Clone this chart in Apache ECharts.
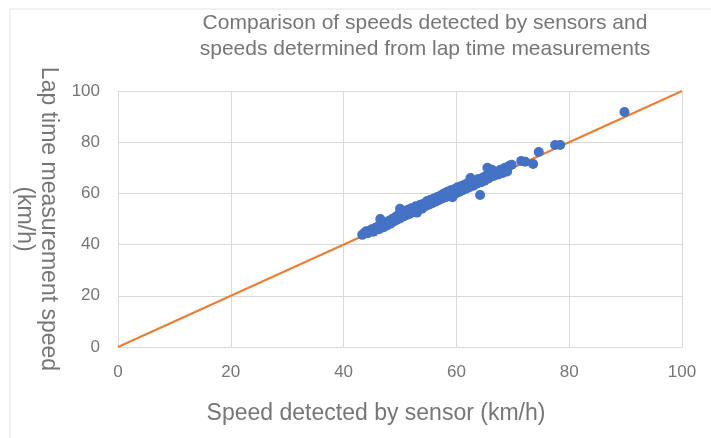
<!DOCTYPE html>
<html>
<head>
<meta charset="utf-8">
<script src="https://cdn.jsdelivr.net/npm/echarts@6/dist/echarts.min.js"></script>
<style>html,body{margin:0;padding:0;background:#fff}#c{width:711px;height:438px}</style>
</head>
<body>
<div id="c"></div>
<script>
const titleText = "Comparison of speeds detected by sensors and\nspeeds determined from lap time measurements";
const xName = "Speed detected by sensor (km/h)";
const yName = "Lap time measurement speed\n(km/h)";
const xTicks = [0, 20, 40, 60, 80, 100];
const yTicks = [0, 20, 40, 60, 80, 100];
const sensorSpeed = [43.3,43.7,44.0,44.3,44.7,45.0,45.3,45.6,46.0,46.3,46.5,46.8,47.1,47.4,47.7,
  48.0,48.3,48.6,48.9,49.2,49.4,49.7,50.0,50.0,50.3,50.6,50.9,51.1,51.4,51.7,52.0,52.2,52.5,
  52.8,53.0,53.3,53.6,53.9,54.2,54.5,54.8,55.1,55.4,55.7,56.0,56.3,56.6,56.9,
  57.2,57.5,57.8,58.1,58.4,58.7,59.0,59.3,59.6,59.9,60.2,60.5,60.8,61.1,61.4,61.7,62.0,62.3,62.5,62.7,
  63.0,63.3,63.6,63.9,64.2,64.4,64.7,65.0,65.3,65.5,65.7,66.0,66.3,66.6,67.0,67.4,67.8,68.2,68.6,69.0,69.4,69.8,
  71.5,72.2,73.6,74.6,77.5,78.4,89.8];
const lapSpeed = [43.8,44.6,45.2,44.4,45.5,46.0,45.0,46.5,47.0,46.0,50.0,47.8,46.8,48.6,47.5,
  49.2,48.2,50.0,49.0,50.8,49.6,51.5,54.0,50.2,52.2,51.0,53.0,51.5,53.6,52.0,54.2,52.6,53.4,
  55.0,52.5,54.4,55.6,54.0,56.0,55.0,57.0,55.6,57.5,56.2,58.0,56.8,58.6,57.4,
  59.2,58.0,60.0,58.5,60.6,59.2,61.2,58.5,61.6,60.0,62.4,60.6,62.8,61.2,63.4,61.8,64.0,62.4,66.0,64.6,
  63.0,65.0,63.8,65.6,59.4,64.4,66.2,65.0,67.0,70.0,65.8,67.6,69.2,66.8,68.4,67.4,69.2,68.0,70.0,68.6,70.8,71.2,
  72.7,72.4,71.5,76.2,78.9,78.9,91.8];
const refLineX = [0, 100];
const refLineY = [0, 100];

const points = sensorSpeed.map((v, i) => [v, lapSpeed[i]]);
const refLine = refLineX.map((v, i) => [v, refLineY[i]]);

const chart = echarts.init(document.getElementById('c'), null, {renderer: 'canvas'});
const grey = '#767676';
const font = 'Liberation Sans, Arial, sans-serif';
chart.setOption({
  animation: false,
  backgroundColor: '#fff',
  graphic: [{
    type: 'rect', shape: {x: 10, y: 9, width: 720, height: 450},
    style: {fill: 'none', stroke: '#e3e3e3', lineWidth: 1}, silent: true, z: -1
  }],
  title: {
    text: titleText, left: 420, top: 5, textAlign: 'center',
    textStyle: {color: grey, fontSize: 21, fontWeight: 'normal', fontFamily: font, lineHeight: 26}
  },
  grid: {left: 118, right: 29, top: 91, bottom: 91},
  xAxis: {
    type: 'value', min: xTicks[0], max: xTicks[xTicks.length - 1], interval: xTicks[1] - xTicks[0],
    name: xName, nameLocation: 'middle', nameGap: 55,
    nameTextStyle: {color: grey, fontSize: 23, fontFamily: font, padding: [0, 48, 0, 0]},
    axisLine: {show: true, lineStyle: {color: '#d9d9d9'}},
    axisTick: {show: false},
    axisLabel: {color: grey, fontSize: 17, fontFamily: font, margin: 17},
    splitLine: {show: true, lineStyle: {color: '#d9d9d9', width: 1}}
  },
  yAxis: {
    type: 'value', min: yTicks[0], max: yTicks[yTicks.length - 1], interval: yTicks[1] - yTicks[0],
    name: yName, nameLocation: 'middle', nameRotate: -90, nameGap: 56,
    nameTextStyle: {color: grey, fontSize: 23, fontFamily: font, lineHeight: 24},
    axisLine: {show: true, lineStyle: {color: '#d9d9d9'}},
    axisTick: {show: false},
    axisLabel: {color: grey, fontSize: 17, fontFamily: font, margin: 18},
    splitLine: {show: true, lineStyle: {color: '#d9d9d9', width: 1}}
  },
  series: [
    {
      type: 'line', data: refLine, symbol: 'none',
      lineStyle: {color: '#ED7D31', width: 2}, z: 2
    },
    {
      type: 'scatter', data: points, symbol: 'circle', symbolSize: 10,
      itemStyle: {color: '#4472C4', opacity: 1}, z: 3
    }
  ]
});
</script>
</body>
</html>
